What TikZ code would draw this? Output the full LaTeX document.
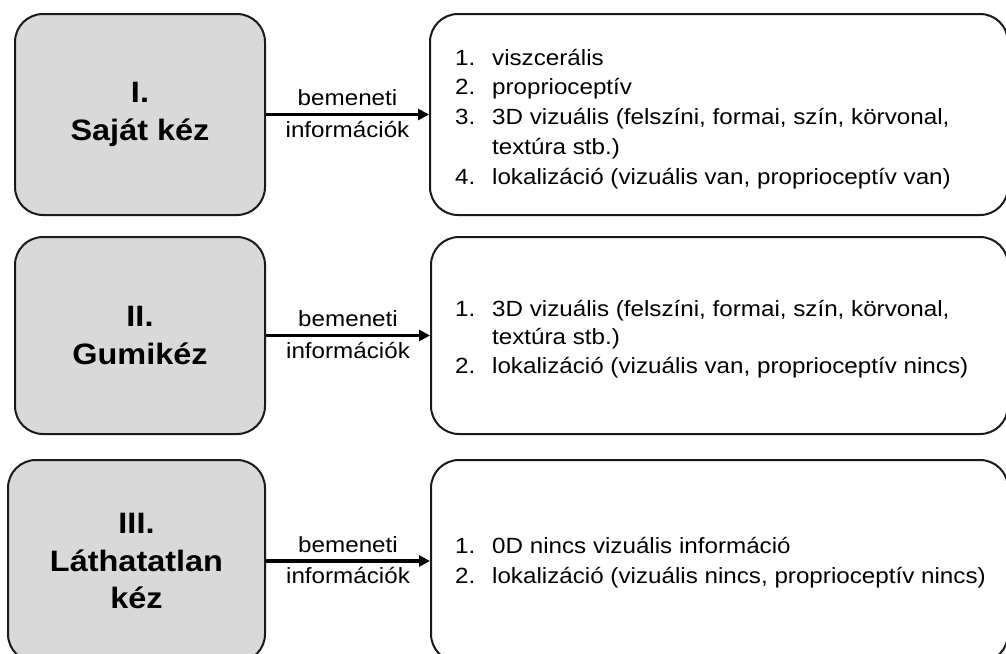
\documentclass[tikz,border=0pt]{standalone}
\usepackage{fontspec}
\setmainfont{Liberation Sans}
\usepackage{graphicx}
\usetikzlibrary{arrows.meta}
\definecolor{linec}{HTML}{1A1A1A}
\definecolor{boxgray}{HTML}{D9D9D9}
\newcommand{\hsc}[1]{\scalebox{1.1}[1]{#1}}
\begin{document}
\begin{tikzpicture}[x=1pt,y=-1pt,
  leftbox/.style={draw=linec, fill=boxgray, line width=2pt, rounded corners=28pt,
    inner sep=0pt, align=center, font=\fontsize{29.5}{37.5}\selectfont\bfseries},
  rightbox/.style={draw=linec, fill=white, line width=2pt, rounded corners=28pt, inner sep=0pt},
  listtext/.style={inner sep=0pt, anchor=base west},
  arr/.style={draw=black, line width=3.2pt, -{Triangle[length=11pt,width=11pt]}},
  lbl/.style={inner sep=0pt, font=\fontsize{22}{28}\selectfont}]
\useasboundingbox (0,0) rectangle (1006,653);

% row 1
\node[leftbox, minimum width=250pt, minimum height=201pt] (L1) at (140,114.5)
  {\hsc{I.}\\\hsc{Saját kéz}};
\node[rightbox, minimum width=578pt, minimum height=201pt] (R1) at (719,114.5) {};
\node[listtext, font=\fontsize{22}{29.75}\selectfont] (T1) at (455,65)
  {\hsc{\begin{tabular}[t]{@{}p{33.6pt}@{}l@{}}
  1.&viszcerális\\
  2.&proprioceptív\\
  3.&3D vizuális (felszíni, formai, szín, körvonal,\\
  &textúra stb.)\\
  4.&lokalizáció (vizuális van, proprioceptív van)
  \end{tabular}}};
\draw[arr] (L1.east) -- node[lbl, midway, above=7pt] (A1a) {\hsc{bemeneti}}
  node[lbl, midway, below=5pt] (A1b) {\hsc{információk}} (R1.west);

% row 2
\node[leftbox, minimum width=250pt, minimum height=197pt] (L2) at (140,335.5)
  {\hsc{II.}\\\hsc{Gumikéz}};
\node[rightbox, minimum width=577pt, minimum height=197pt] (R2) at (719.5,335.5) {};
\node[listtext, font=\fontsize{22}{28.5}\selectfont] (T2) at (455,316)
  {\hsc{\begin{tabular}[t]{@{}p{33.6pt}@{}l@{}}
  1.&3D vizuális (felszíni, formai, szín, körvonal,\\
  &textúra stb.)\\
  2.&lokalizáció (vizuális van, proprioceptív nincs)
  \end{tabular}}};
\draw[arr] (L2.east) -- node[lbl, midway, above=7pt] (A2a) {\hsc{bemeneti}}
  node[lbl, midway, below=5pt] (A2b) {\hsc{információk}} (R2.west);

% row 3
\node[leftbox, minimum width=257pt, minimum height=202pt] (L3) at (136.5,561)
  {\hsc{III.}\\\hsc{Láthatatlan}\\\hsc{kéz}};
\node[rightbox, minimum width=577pt, minimum height=202pt] (R3) at (719.5,561) {};
\node[listtext, font=\fontsize{22}{30}\selectfont] (T3) at (455,553)
  {\hsc{\begin{tabular}[t]{@{}p{33.6pt}@{}l@{}}
  1.&0D nincs vizuális információ\\
  2.&lokalizáció (vizuális nincs, proprioceptív nincs)
  \end{tabular}}};
\draw[arr] (L3.east) -- node[lbl, midway, above=7pt] (A3a) {\hsc{bemeneti}}
  node[lbl, midway, below=5pt] (A3b) {\hsc{információk}} (R3.west);
\end{tikzpicture}
\end{document}
